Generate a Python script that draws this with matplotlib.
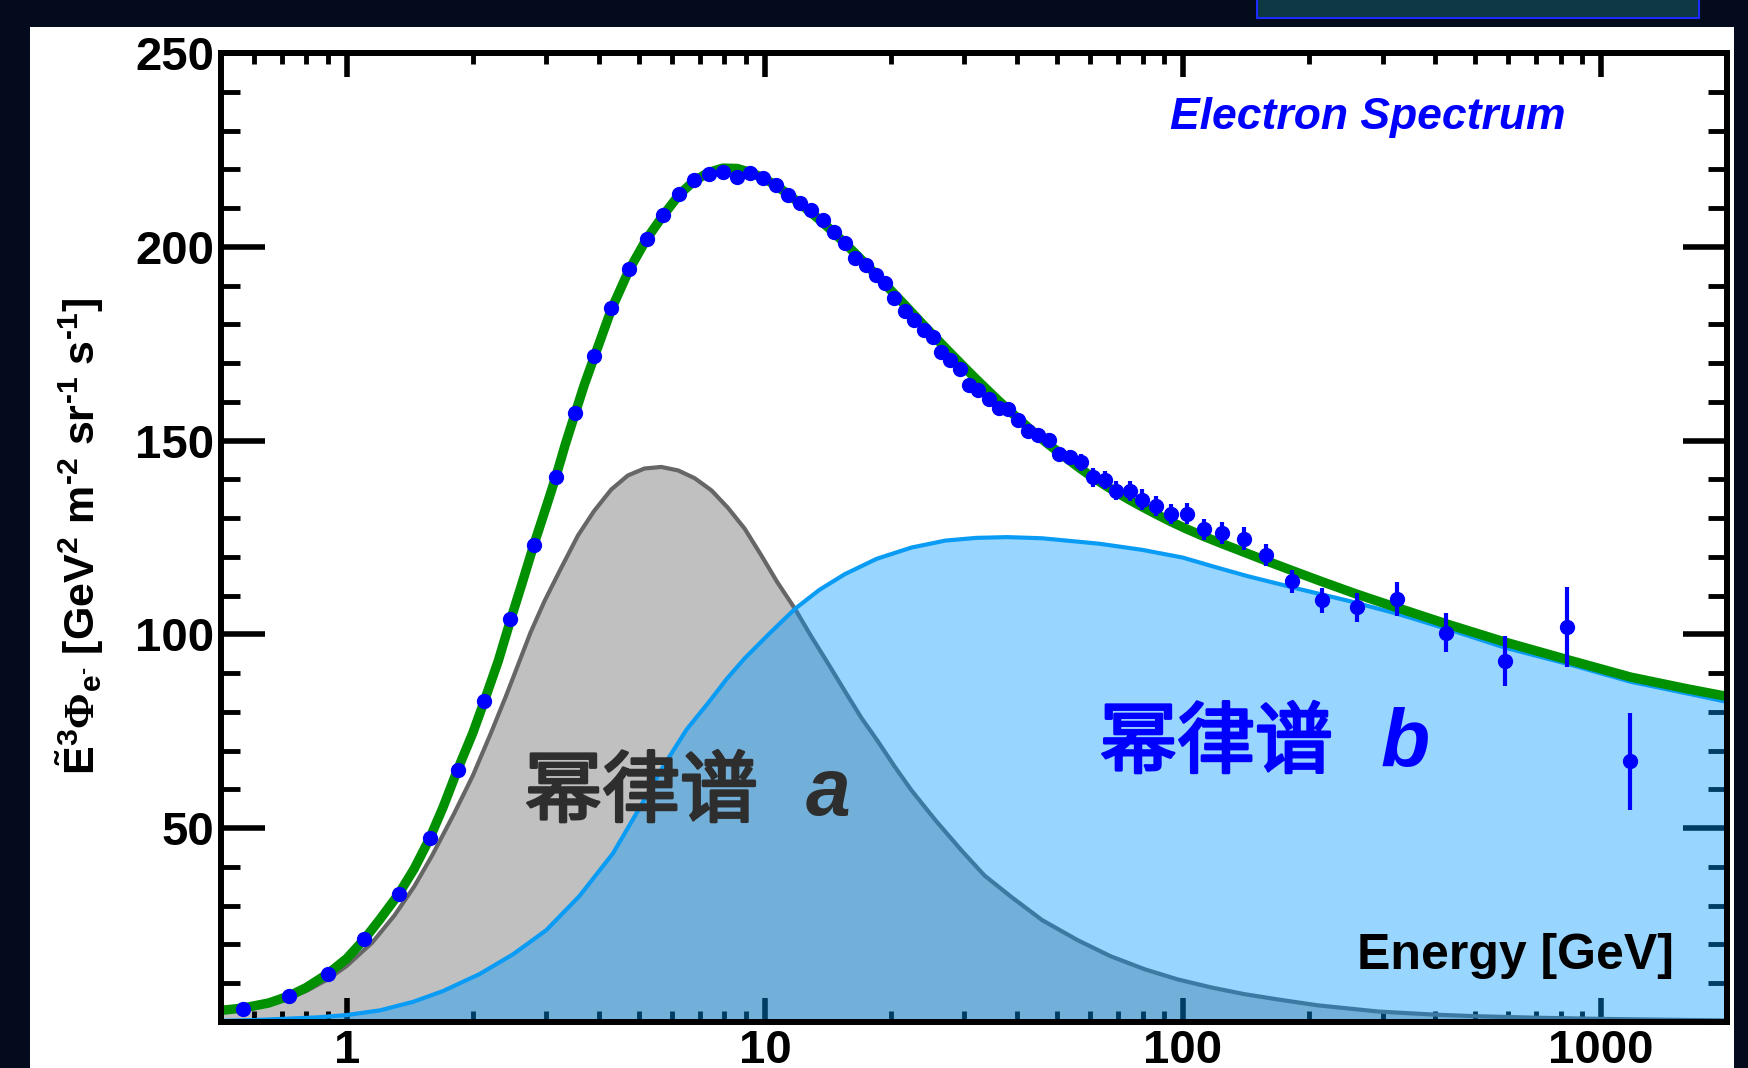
import matplotlib
matplotlib.use('Agg')
import matplotlib.pyplot as plt
import matplotlib.patheffects as pe
from matplotlib.patches import Rectangle
from matplotlib.ticker import MultipleLocator, LogLocator, NullFormatter
from matplotlib import font_manager

# ---- values ----
# total fit (green)
E_total = [0.5, 0.564, 0.65, 0.727, 0.8, 0.902, 1.0, 1.1, 1.2, 1.33, 1.45, 1.58, 1.7, 1.84,
           2.0, 2.13, 2.3, 2.46, 2.63, 2.8, 3.0, 3.16, 3.33, 3.52, 3.7, 3.91, 4.29, 4.73,
           5.21, 5.7, 6.24, 6.77, 7.34, 7.93, 8.59, 9.23, 9.89, 10.6, 11.35, 12.1, 12.9,
           13.8, 14.6, 15.5, 16.4, 17.4, 18.4, 19.4, 20.4, 21.6, 22.7, 24.0, 25.2, 26.3,
           27.7, 29.2, 30.7, 32.4, 34.4, 36.2, 38.1, 40.3, 42.6, 45.0, 47.7, 50.4, 53.6,
           57.1, 60.9, 65.0, 69.2, 74.5, 79.9, 86.3, 93.5, 102, 112, 124, 140, 158, 182,
           215, 260, 325, 427, 590, 830, 1175, 1600, 2000]
total_fit = [3.0, 3.6, 4.9, 6.7, 8.9, 12.5, 16.4, 21.3, 26.5, 33.0, 39.6, 47.5, 55.5, 65.1,
             74.5, 82.7, 93.0, 103.5, 113.5, 123.1, 133.0, 140.6, 149.0, 157.2, 164.5, 171.7,
             183.8, 194.0, 202.0, 208.0, 213.5, 217.0, 219.2, 220.3, 220.2, 219.2, 217.8,
             215.9, 213.6, 211.2, 208.8, 206.1, 203.7, 201.0, 198.4, 195.6, 192.9, 190.3,
             187.8, 185.0, 182.5, 179.7, 177.3, 175.2, 172.7, 170.2, 167.8, 165.3, 162.6,
             160.3, 158.1, 155.7, 153.4, 151.2, 149.0, 147.0, 144.8, 142.6, 140.5, 138.5,
             136.7, 134.7, 132.9, 131.0, 129.1, 127.2, 125.3, 123.4, 121.2, 119.0, 116.5,
             113.6, 110.4, 106.9, 102.7, 98.0, 93.5, 89.0, 86.0, 84.0]

# power-law component a (grey)
E_a = [0.5, 0.6, 0.7, 0.8, 0.9, 1.0, 1.15, 1.3, 1.45, 1.6, 1.8, 2.0, 2.21, 2.4, 2.56, 2.75,
       2.97, 3.25, 3.57, 3.9, 4.29, 4.7, 5.15, 5.65, 6.2, 6.79, 7.44, 8.15, 8.94, 9.8, 10.7,
       11.8, 12.9, 14.1, 15.5, 17.0, 18.6, 20.4, 22.4, 25.6, 29.5, 33.5, 38.8, 46, 56, 67,
       81, 97, 117, 140, 169, 210, 293, 400, 500, 700, 1000, 1400, 2000]
flux_a = [2.7, 3.8, 5.5, 8.0, 11.0, 14.5, 20.5, 27.5, 35.0, 43.0, 53.5, 63.5, 74.5, 84.0,
          91.8, 100.5, 108.6, 117.0, 125.5, 131.8, 137.4, 141.0, 142.8, 143.2, 142.3, 140.3,
          137.2, 132.7, 127.3, 120.4, 113.5, 106.6, 99.5, 92.8, 85.5, 78.5, 72.5, 66.0, 59.8,
          52.0, 44.3, 37.8, 32.3, 26.3, 21.1, 17.0, 13.6, 11.0, 8.9, 7.2, 5.8, 4.3, 2.7, 1.9,
          1.5, 1.1, 0.8, 0.6, 0.4]

# power-law component b (light blue)
E_b = [0.5, 0.6, 0.7, 0.85, 1.0, 1.2, 1.44, 1.7, 2.08, 2.5, 3.0, 3.6, 4.33, 5.0, 5.7, 6.5,
       7.3, 8.1, 8.94, 10.2, 11.8, 13.5, 15.5, 18.5, 22.4, 27, 32, 38, 46, 63, 80, 100, 120,
       143, 188, 250, 326, 440, 588, 830, 1175, 1600, 2000]
flux_b = [0.3, 0.5, 0.8, 1.2, 1.8, 3.0, 5.2, 8.0, 12.4, 17.5, 23.7, 32.5, 43.5, 55.0, 65.8,
          75.5, 82.2, 88.5, 93.8, 100.0, 106.6, 111.5, 115.5, 119.5, 122.4, 124.2, 124.9,
          125.1, 124.8, 123.4, 121.8, 119.8, 117.3, 115.0, 111.8, 108.6, 105.3, 101.0, 96.6,
          92.4, 87.8, 84.8, 82.6]

# measured electron spectrum
E_data = [0.564, 0.727, 0.902, 1.10, 1.33, 1.58, 1.84, 2.13, 2.46, 2.80, 3.16, 3.52, 3.91,
          4.29, 4.73, 5.21, 5.70, 6.24, 6.77, 7.34, 7.93, 8.59, 9.23, 9.89, 10.6, 11.35,
          12.1, 12.9, 13.8, 14.6, 15.5, 16.4, 17.4, 18.4, 19.4, 20.4, 21.6, 22.7, 24.0,
          25.2, 26.3, 27.7, 29.2, 30.7, 32.4, 34.4, 36.2, 38.1, 40.3, 42.6, 45.0, 47.7,
          50.4, 53.6, 57.1, 60.9, 65.0, 69.2, 74.5, 79.9, 86.3, 93.5, 102, 112.3, 124.2,
          139.7, 158.3, 182.3, 215.2, 260.4, 325.2, 426.6, 588.5, 829.5, 1175]
flux_data = [3.3, 6.7, 12.5, 21.3, 33.0, 47.5, 65.1, 82.7, 104.1, 123.1, 140.6, 157.2, 171.7,
             184.1, 194.2, 202.1, 208.2, 213.5, 217.3, 218.8, 219.4, 218.1, 219.0, 217.7,
             216.0, 213.3, 211.4, 209.4, 206.9, 203.8, 201.0, 197.1, 195.2, 192.6, 190.7,
             186.7, 183.5, 181.1, 178.6, 176.6, 172.9, 170.9, 168.6, 164.4, 163.1, 160.8,
             158.3, 158.1, 155.2, 152.4, 151.4, 150.2, 146.6, 145.7, 144.4, 140.5, 139.9,
             137.1, 136.9, 134.8, 133.2, 131.1, 131.1, 127.1, 126.1, 124.7, 120.5, 113.7,
             108.8, 107.0, 109.2, 100.4, 93.1, 101.9, 67.3]
err_data = [0.3, 0.3, 0.4, 0.5, 0.6, 0.7, 0.8, 0.9, 1.0, 1.0, 1.0, 1.0, 1.0, 1.0, 1.0, 1.0,
            1.0, 1.0, 1.0, 1.0, 1.0, 1.0, 1.0, 1.0, 1.0, 1.0, 1.0, 1.0, 1.0, 1.0, 1.0, 1.0,
            1.1, 1.1, 1.1, 1.1, 1.2, 1.2, 1.2, 1.2, 1.3, 1.3, 1.3, 1.4, 1.4, 1.4, 1.5, 1.5,
            1.6, 1.6, 1.7, 1.7, 1.8, 1.9, 2.2, 2.4, 2.3, 2.5, 2.6, 2.6, 2.6, 2.6, 2.7, 2.7,
            2.9, 2.9, 2.9, 3.0, 3.2, 3.7, 4.4, 5.0, 6.4, 10.3, 12.5]

xticks = [1, 10, 100, 1000]
xtick_labels = ['1', '10', '100', '1000']
yticks = [50, 100, 150, 200, 250]
ytick_labels = ['50', '100', '150', '200', '250']


def pick_font(names):
    for n in names:
        try:
            font_manager.findfont(font_manager.FontProperties(family=n), fallback_to_default=False)
            return n
        except Exception:
            pass
    return 'DejaVu Sans'


narrow = pick_font(['Liberation Sans Narrow', 'Liberation Sans', 'Arial'])
cjk = 'Noto Sans CJK SC'

plt.rcParams['font.family'] = [narrow, 'DejaVu Sans']
plt.rcParams['font.weight'] = 'bold'
plt.rcParams['mathtext.fontset'] = 'custom'
plt.rcParams['mathtext.rm'] = narrow + ':bold'
plt.rcParams['mathtext.it'] = narrow + ':bold'
plt.rcParams['mathtext.bf'] = narrow + ':bold'
plt.rcParams['mathtext.sf'] = 'Liberation Serif'

W, H = 1749, 1068
fig = plt.figure(figsize=(W / 100, H / 100), dpi=100, facecolor='#030b1c')

# slide elements: white panel and the clipped title box
fig.patches.append(Rectangle((30 / W, 0), (1734 - 30) / W, 1 - 27 / H,
                             transform=fig.transFigure, facecolor='white',
                             edgecolor='none', zorder=-10))
fig.patches.append(Rectangle((1257 / W, 1 - 18 / H), (1699 - 1257) / W, 0.05,
                             transform=fig.transFigure, facecolor='#0d3944',
                             edgecolor='#1a2cff', linewidth=1.5, zorder=-10))

ax = fig.add_axes([221 / W, (H - 1022) / H, (1727 - 221) / W, (1022 - 53) / H])
ax.set_zorder(5)
ax.set_facecolor('white')

# component a
ax.fill_between(E_a, 0, flux_a, color='#c0c0c0', linewidth=0, zorder=1)
ax.plot(E_a, flux_a, color='#666666', linewidth=3.0, zorder=2)
# component b
ax.fill_between(E_b, 0, flux_b, color=(0.0, 0.6, 1.0), alpha=0.4, linewidth=0, zorder=3)
ax.plot(E_b, flux_b, color='#0a9cf5', linewidth=3.0, zorder=4)
# total
ax.plot(E_total, total_fit, color='#009000', linewidth=6.8, solid_capstyle='butt', zorder=5)
# data
ax.errorbar(E_data, flux_data, yerr=err_data, fmt='o', color='#0000ff', ms=10,
            elinewidth=3.0, capsize=0, zorder=6)

ax.set_xscale('log')
ax.set_xlim(0.5, 2000)
ax.set_ylim(0, 250)

ax.set_xticks(xticks)
ax.set_xticklabels(xtick_labels)
ax.xaxis.set_minor_locator(LogLocator(base=10, subs=[2, 3, 4, 5, 6, 7, 8, 9]))
ax.xaxis.set_minor_formatter(NullFormatter())
ax.set_yticks(yticks)
ax.set_yticklabels(ytick_labels)
ax.yaxis.set_minor_locator(MultipleLocator(10))

ax.tick_params(which='both', direction='in', top=True, right=True, labelsize=34,
               colors='black', pad=5)
ax.xaxis.set_tick_params(which='major', length=17, width=4)
ax.xaxis.set_tick_params(which='minor', length=8, width=3.5)
ax.yaxis.set_tick_params(which='major', length=32, width=4)
ax.yaxis.set_tick_params(which='minor', length=14, width=3.5)
for lab in ax.get_xticklabels() + ax.get_yticklabels():
    lab.set_fontweight('bold')

for sp in ax.spines.values():
    sp.set_linewidth(4.3)
    sp.set_zorder(10)

# texts
ax.text(0.893, 0.933, 'Electron Spectrum', transform=ax.transAxes, ha='right', va='center',
        color='#0000ff', fontsize=32, fontweight='bold', fontstyle='italic')
ax.text(0.9648, 0.068, 'Energy [GeV]', transform=ax.transAxes, ha='right', va='center',
        color='black', fontsize=36, fontweight='bold')
ax.text(0.2789, 0.2353, '幂律谱', transform=ax.transAxes, ha='center', va='center',
        color='#2e2e2e', fontsize=56, fontweight='normal', family=[cjk, 'DejaVu Sans'],
        path_effects=[pe.withStroke(linewidth=2.0, foreground='#2e2e2e')], zorder=7)
ax.text(0.4031, 0.2353, 'a', transform=ax.transAxes, ha='center', va='center',
        color='#2e2e2e', fontsize=58, fontweight='bold', fontstyle='italic',
        family=['Liberation Sans', 'DejaVu Sans'], zorder=7)
ax.text(0.6607, 0.2859, '幂律谱', transform=ax.transAxes, ha='center', va='center',
        color='#0000ff', fontsize=56, fontweight='normal', family=[cjk, 'DejaVu Sans'],
        path_effects=[pe.withStroke(linewidth=2.0, foreground='#0000ff')], zorder=7)
ax.text(0.7862, 0.2859, 'b', transform=ax.transAxes, ha='center', va='center',
        color='#0000ff', fontsize=58, fontweight='bold', fontstyle='italic',
        family=['Liberation Sans', 'DejaVu Sans'], zorder=7)

fig.text(80 / W, 1 - 536 / H,
         '$\\tilde{\\mathrm{E}}^{3}\\mathsf{\\Phi}_{\\mathrm{e}^{\u2010}}$ '
         '[GeV$^{2}$ m$^{\u20102}$ sr$^{\u20101}$ s$^{\u20101}$]',
         rotation=90, ha='center', va='center', fontsize=31, fontweight='bold', color='black')

fig.savefig('out.png', dpi=100, facecolor=fig.get_facecolor())
